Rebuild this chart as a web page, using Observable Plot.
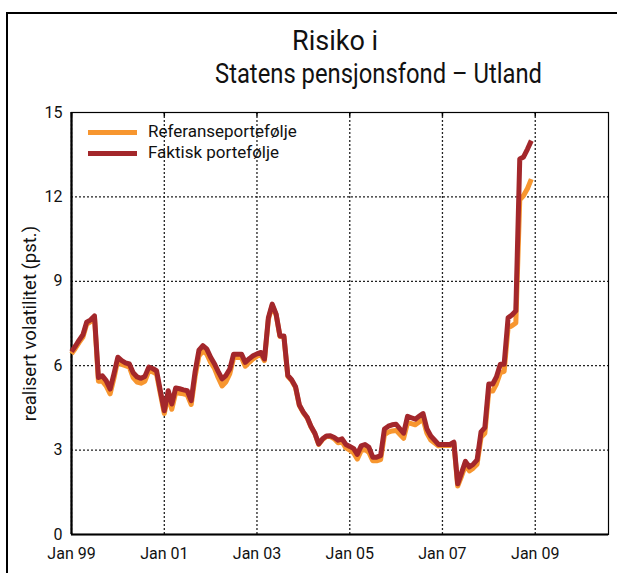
<!DOCTYPE html>
<html>
<head>
<meta charset="utf-8">
<script src="https://cdn.jsdelivr.net/npm/d3@7"></script>
<script src="https://cdn.jsdelivr.net/npm/@observablehq/plot@0.6"></script>
<style>
  html, body { margin: 0; padding: 0; background: #fff; }
  #wrap { position: relative; width: 617px; height: 573px; overflow: hidden; font-family: Roboto, "Open Sans", sans-serif; }
  #outer { position: absolute; left: 6px; top: 12px; width: 700px; height: 700px; border: 2px solid #000; box-sizing: border-box; }
  #chart { position: absolute; left: 0; top: 0; }
  .title { position: absolute; font-size: 27px; color: #111; white-space: nowrap; line-height: 1; transform-origin: 0 0; }
  .leg { position: absolute; left: 88px; font-size: 17px; color: #111; white-space: nowrap; }
  .leg .sw { position: absolute; left: 0; width: 49px; height: 5px; }
  .leg .tx { position: absolute; left: 60px; line-height: 1; }
</style>
</head>
<body>
<div id="wrap">
  <div id="outer"></div>
  <div id="chart"></div>
  <div class="title" id="t1" style="top:28px;left:292px">Risiko i</div>
  <div class="title" id="t2" style="top:61px;left:215px">Statens pensjonsfond – Utland</div>
  <div id="legend"></div>
</div>
<script>
// ---- data (monthly, first value = Jan 1999) ----
const firstMonth = "1999-01-01";
const seriesNames = ["Referanseportefølje", "Faktisk portefølje"];
const seriesColors = ["#F7962F", "#A3272B"];

const faktisk = [
  6.5, 6.7, 6.9, 7.1, 7.55, 7.63, 7.77, 5.58, 5.64, 5.47, 5.17, 5.7,
  6.3, 6.18, 6.1, 6.06, 5.75, 5.6, 5.55, 5.62, 5.95, 5.9, 5.82, 5.1,
  4.4, 5.11, 4.64, 5.21, 5.18, 5.14, 5.11, 4.76, 5.8, 6.55, 6.71, 6.6,
  6.3, 6.06, 5.8, 5.53, 5.65, 5.88, 6.41, 6.41, 6.41, 6.12, 6.25, 6.35,
  6.42, 6.47, 6.24, 7.71, 8.19, 7.83, 7.06, 7.06, 5.65, 5.5, 5.25, 4.6,
  4.35, 4.16, 3.85, 3.6, 3.22, 3.4, 3.5, 3.51, 3.45, 3.35, 3.4, 3.2,
  3.13, 3.05, 2.85, 3.15, 3.2, 3.1, 2.75, 2.75, 2.8, 3.75, 3.85, 3.9,
  3.92, 3.75, 3.6, 4.2, 4.15, 4.1, 4.2, 4.3, 3.75, 3.5, 3.35, 3.2,
  3.2, 3.2, 3.2, 3.28, 1.8, 2.2, 2.6, 2.4, 2.5, 2.65, 3.65, 3.8,
  5.35, 5.35, 5.6, 6.05, 6.05, 7.7, 7.8, 7.95, 13.35, 13.42, 13.7, 14.0
];

const referanse = [
  6.42, 6.62, 6.82, 7.02, 7.48, 7.57, 7.72, 5.45, 5.45, 5.28, 5.0, 5.55,
  6.2, 6.05, 6.0, 5.95, 5.58, 5.42, 5.38, 5.45, 5.82, 5.78, 5.7, 5.0,
  4.3, 4.95, 4.45, 5.05, 5.02, 5.0, 4.96, 4.62, 5.62, 6.35, 6.52, 6.42,
  6.12, 5.9, 5.58, 5.28, 5.42, 5.72, 6.28, 6.3, 6.28, 5.98, 6.12, 6.24,
  6.34, 6.4, 6.18, 7.65, 8.14, 7.8, 7.04, 7.04, 5.62, 5.47, 5.22, 4.58,
  4.33, 4.14, 3.83, 3.58, 3.2, 3.38, 3.48, 3.48, 3.4, 3.26, 3.3, 3.08,
  3.0, 2.9, 2.68, 2.98, 3.02, 2.92, 2.62, 2.62, 2.66, 3.55, 3.64, 3.68,
  3.7, 3.55, 3.42, 3.98, 3.94, 3.9, 4.0, 4.1, 3.6, 3.36, 3.25, 3.15,
  3.16, 3.16, 3.16, 3.24, 1.72, 2.08, 2.46, 2.26, 2.36, 2.5, 3.45, 3.6,
  5.1, 5.1, 5.35, 5.75, 5.8, 7.35, 7.42, 7.52, 11.9, 12.05, 12.3, 12.63
];

const yTicks = [0, 3, 6, 9, 12, 15];
const xTickDates = ["1999-01-01", "2001-01-01", "2003-01-01", "2005-01-01", "2007-01-01", "2009-01-01"];
const xDomain = ["1999-01-01", "2010-08-01"];

// ---- build table ----
const months = d3.utcMonth.range(new Date(firstMonth), d3.utcMonth.offset(new Date(firstMonth), faktisk.length));
const refData = months.map((d, i) => ({date: d, value: referanse[i]}));
const faktData = months.map((d, i) => ({date: d, value: faktisk[i]}));
const xTicks = xTickDates.map(s => new Date(s));
const fmt = d => "Jan " + d3.utcFormat("%y")(d);

const chart = Plot.plot({
  width: 617,
  height: 573,
  marginLeft: 71,
  marginRight: 9,
  marginTop: 112,
  marginBottom: 39,
  style: {background: "transparent", fontFamily: "Roboto, 'Open Sans', sans-serif", fontSize: "16px", color: "#111"},
  x: {type: "utc", domain: xDomain.map(s => new Date(s))},
  y: {domain: [0, 15]},
  marks: [
    Plot.gridX(xTicks, {stroke: "#222", strokeOpacity: 1, strokeWidth: 1.3, strokeDasharray: "2,2"}),
    Plot.gridY([3, 6, 9, 12], {stroke: "#222", strokeOpacity: 1, strokeWidth: 1.3, strokeDasharray: "2,2"}),
    Plot.ruleX(xTicks, {x: d => d, y1: 15, y2: 14.85, stroke: "#000", strokeWidth: 1.5}),
    Plot.frame({stroke: "#000", strokeWidth: 1.2}),
    Plot.ruleX([new Date(xDomain[0])], {stroke: "#000", strokeWidth: 2.2}),
    Plot.ruleY([0], {stroke: "#000", strokeWidth: 2.2}),
    Plot.axisY(yTicks, {tickSize: 0, tickPadding: 9, fontSize: 16, label: "realisert volatilitet (pst.)", labelAnchor: "center", labelArrow: "none", labelOffset: 49}),
    Plot.axisX(xTicks, {tickSize: 0, tickPadding: 13, fontSize: 16, tickFormat: fmt, label: null}),
    Plot.lineY(refData, {x: "date", y: "value", stroke: seriesColors[0], strokeWidth: 5, strokeLinejoin: "round", strokeLinecap: "butt"}),
    Plot.lineY(faktData, {x: "date", y: "value", stroke: seriesColors[1], strokeWidth: 5, strokeLinejoin: "round", strokeLinecap: "butt"})
  ]
});
document.getElementById("chart").appendChild(chart);

// font sizes of axis texts
chart.querySelectorAll("g[aria-label$='tick label'] text, g[aria-label$='tick label']").forEach(t => t.setAttribute("font-size", "16"));
chart.querySelectorAll("g[aria-label='y-axis label'] text, g[aria-label='y-axis label']").forEach(t => t.setAttribute("font-size", "18.5"));

// fit second title line to the reference width
const t2 = document.getElementById("t2");
const w2 = t2.getBoundingClientRect().width;
if (w2 > 0) t2.style.transform = `scaleX(${327 / w2})`;

// ---- legend ----
const legend = document.getElementById("legend");
const rowsTop = [123, 144];
seriesNames.forEach((name, i) => {
  const row = document.createElement("div");
  row.className = "leg";
  row.style.top = rowsTop[i] + "px";
  row.innerHTML = `<div class="sw" style="top:7px;background:${seriesColors[i]}"></div><div class="tx">${name}</div>`;
  legend.appendChild(row);
});
</script>
</body>
</html>
